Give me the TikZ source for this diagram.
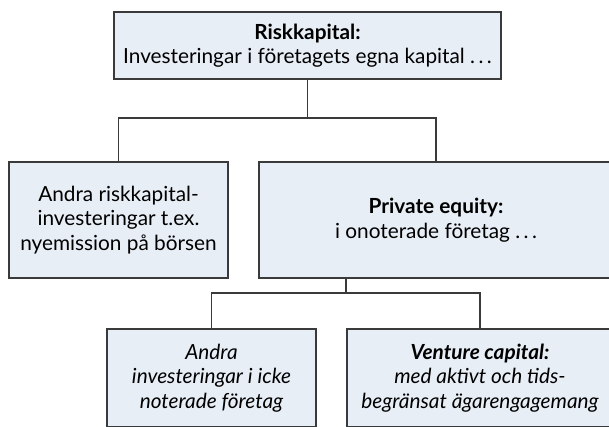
\documentclass[tikz,border=0pt]{standalone}
\usepackage{fontspec}
\setmainfont{Lato}
\usepackage{tikz}

\definecolor{boxfill}{RGB}{232,238,246}
\definecolor{boxline}{RGB}{58,58,58}

\begin{document}
\begin{tikzpicture}
    [x=1pt,y=-1pt,line width=1.2pt,draw=boxline,
     every node/.style={rectangle, draw=boxline, fill=boxfill, inner sep=0pt, align=center,
       font=\fontsize{20.8}{24.5}\selectfont},
     wide/.style={minimum width=#1}]
    \useasboundingbox (0,0) rectangle (609,426);
    \clip (0,0) rectangle (609,426);
    \node[wide=387pt, minimum height=67pt] (risk) at (307.5,45.5)
      {\textbf{Riskkapital:}\\Investeringar i företagets egna kapital .\,.\,.};
    \node[wide=219pt, minimum height=116pt] (andra) at (118.5,220)
      {Andra riskkapital-\\investeringar t.ex.\\nyemission på börsen};
    \node[wide=354pt, minimum height=116pt] (pe) at (436,220)
      {\textbf{Private equity:}\\i onoterade företag .\,.\,.};
    \node[wide=209pt, minimum height=98pt] (ovr) at (211.5,378)
      {\itshape Andra\\\itshape investeringar i icke\\\itshape noterade företag};
    \node[wide=266pt, minimum height=98pt] (vc) at (480,378)
      {\bfseries\itshape Venture capital:\\\itshape med aktivt och tids-\\\itshape begränsat ägarengagemang};
    \coordinate (j1) at (307.5,118);
    \coordinate (j2) at (346,293);
    \draw (risk.south) -- (j1);
    \draw (pe.south -| j2) -- (j2);
    \foreach \from/\to in {j1/andra, j1/pe, j2/ovr, j2/vc}
    \draw (\from) -| (\to.north);
  \end{tikzpicture}
\end{document}
